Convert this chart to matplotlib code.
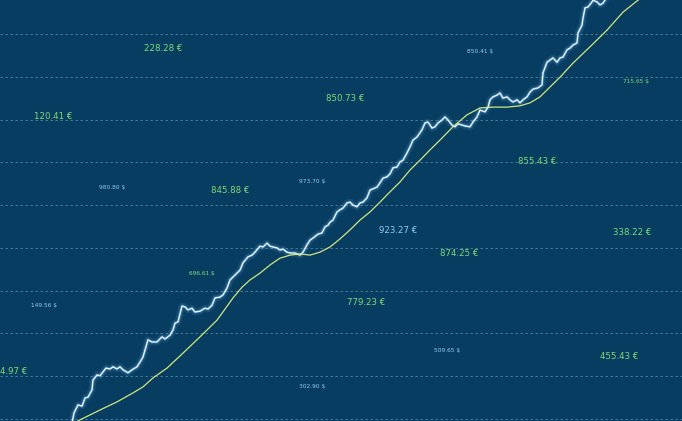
import matplotlib.pyplot as plt
import numpy as np

# time index (minutes) and price for the jagged price line
t_price = [72, 74, 78, 82, 85, 88, 92, 93, 97, 100, 106, 110, 113, 117, 120, 123, 128, 132, 137,
           140, 143, 148, 152, 157, 162, 165, 170, 173, 175, 178, 182, 185, 188, 192, 195, 200,
           205, 208, 212, 215, 220, 223, 227, 230, 240, 243, 248, 252, 255, 260, 263, 267, 270,
           273, 277, 280, 283, 287, 290, 295, 300, 303, 307, 310, 313, 318, 322, 325, 328, 330,
           333, 337, 340, 343, 347, 350, 353, 357, 360, 363, 367, 370, 373, 377, 380, 383, 387,
           390, 393, 397, 400, 403, 407, 410, 412, 413, 417, 422, 425, 428, 432, 435, 438, 442,
           445, 448, 452, 455, 458, 462, 465, 470, 473, 477, 480, 485, 488, 490, 493, 497, 500,
           503, 507, 510, 513, 517, 520, 523, 527, 530, 533, 538, 542, 543, 547, 550, 553, 557,
           560, 563, 567, 570, 573, 577, 578, 582, 583, 585, 588, 592, 593, 597, 600, 603, 605, 608]
price = [-9, 14, 33, 30, 49, 51, 68, 91, 103, 101, 119, 117, 122, 117, 122, 115, 108, 115, 122,
         133, 145, 185, 180, 180, 192, 187, 196, 208, 224, 227, 264, 262, 255, 259, 250, 252,
         259, 257, 266, 283, 285, 290, 306, 325, 348, 365, 379, 383, 390, 404, 402, 411, 404,
         402, 400, 395, 397, 390, 388, 388, 383, 390, 407, 418, 423, 432, 435, 449, 453, 460,
         465, 484, 489, 493, 505, 507, 500, 496, 505, 507, 517, 535, 538, 542, 552, 563, 566,
         573, 587, 589, 601, 605, 622, 636, 647, 652, 659, 676, 692, 694, 680, 683, 692, 699,
         706, 699, 687, 683, 690, 687, 685, 683, 694, 706, 722, 718, 729, 746, 753, 757, 762,
         750, 753, 746, 741, 746, 739, 746, 753, 764, 771, 774, 781, 809, 834, 839, 844, 834,
         844, 846, 863, 867, 874, 879, 902, 921, 937, 961, 963, 975, 979, 975, 968, 972, 979, 991]

# smoothed trend line
t_trend = [75, 80, 100, 117, 133, 143, 153, 167, 183, 200, 217, 233, 242, 250, 260, 270, 280,
           290, 300, 310, 320, 330, 340, 350, 360, 370, 380, 390, 400, 410, 420, 430, 440, 453,
           467, 480, 493, 507, 520, 530, 540, 550, 560, 573, 590, 607, 623, 638, 645]
trend = [-9, -2, 21, 40, 61, 75, 96, 119, 154, 192, 231, 283, 308, 325, 341, 360, 376,
         383, 386, 383, 390, 402, 421, 442, 465, 484, 507, 531, 554, 582, 605, 629, 652, 683,
         711, 727, 729, 729, 732, 739, 753, 776, 799, 832, 870, 909, 951, 979, 993]

# floating price tags: text, time, level
green_tags = ['228.28 €', '120.41 €', '850.73 €', '845.88 €', '855.43 €', '338.22 €',
              '874.25 €', '779.23 €', '455.43 €']
green_t = [163, 53, 345, 230, 537, 632, 459, 366, 619]
green_p = [867, 708, 750, 535, 603, 437, 386, 272, 145]

small_green_tags = ['715.65 $', '696.61 $']
small_green_t = [636, 202]
small_green_p = [790, 341]

blue_tags = ['850.41 $', '980.80 $', '973.70 $', '149.56 $', '509.65 $', '302.90 $']
blue_t = [480, 112, 312, 44, 447, 312]
blue_p = [858, 542, 554, 266, 159, 77]

bg = '#083d62'
fig = plt.figure(figsize=(6.82, 4.21), dpi=100)
fig.patch.set_facecolor(bg)
ax = fig.add_axes([0, 0, 1, 1])
ax.set_facecolor(bg)
ax.set_xlim(0, 682)
ax.set_ylim(-4.7, 979.4)

for lvl in range(0, 1000, 100):
    ax.axhline(lvl, color='#8fb8d6', lw=0.6, ls=(0, (3, 3)), alpha=0.55, zorder=1)

# glow under the price line
ax.plot(t_price, price, color='#4fa8e0', lw=5, alpha=0.15, zorder=2, solid_joinstyle='round')
ax.plot(t_price, price, color='#7fc4f0', lw=2.5, alpha=0.25, zorder=2, solid_joinstyle='round')
ax.plot(t_price, price, color='#eef7ff', lw=1.0, zorder=3)
ax.plot(t_trend, trend, color='#cde77f', lw=0.9, zorder=3)

for s, x, y in zip(green_tags, green_t, green_p):
    ax.text(x, y, s, color='#7ddc72', fontsize=6.2, ha='center', va='center', zorder=4)
ax.text(0, 112, '4.97 €', color='#7ddc72', fontsize=6.2, ha='left', va='center', zorder=4)
ax.text(398, 440, '923.27 €', color='#8fcdf0', fontsize=6.2, ha='center', va='center', zorder=4)
for s, x, y in zip(small_green_tags, small_green_t, small_green_p):
    ax.text(x, y, s, color='#7ddc72', fontsize=4.2, ha='center', va='center', zorder=4)
for s, x, y in zip(blue_tags, blue_t, blue_p):
    ax.text(x, y, s, color='#8fcdf0', fontsize=4.2, ha='center', va='center', zorder=4)

ax.axis('off')
fig.savefig('out.png', dpi=100, facecolor=bg)
